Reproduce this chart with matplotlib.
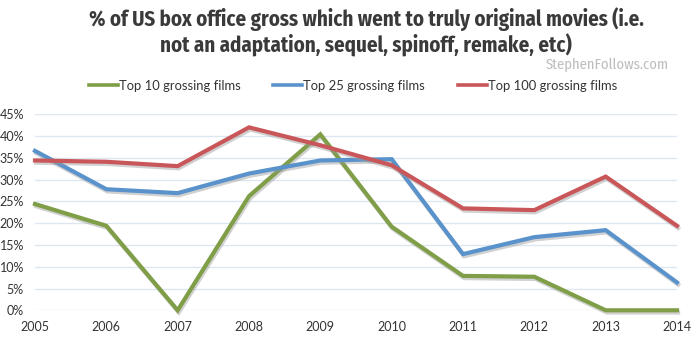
import matplotlib
matplotlib.use("Agg")
import matplotlib.pyplot as plt
import matplotlib.patheffects as pe
from matplotlib.lines import Line2D
from matplotlib import font_manager as fm

years = [2005, 2006, 2007, 2008, 2009, 2010, 2011, 2012, 2013, 2014]
top10 = [24.4, 19.4, 0.0, 26.2, 40.4, 19.2, 7.9, 7.7, 0.0, 0.0]
top25 = [36.6, 27.8, 26.9, 31.4, 34.4, 34.7, 12.9, 16.8, 18.4, 6.4]
top100 = [34.4, 34.1, 33.1, 42.0, 37.9, 33.3, 23.4, 23.0, 30.7, 19.4]
series_names = ["Top 10 grossing films", "Top 25 grossing films", "Top 100 grossing films"]
colors = ["#7f9e47", "#5a93cb", "#c9575a"]
yticks = [0, 5, 10, 15, 20, 25, 30, 35, 40, 45]

plt.rcParams["font.family"] = ["Lato", "DejaVu Sans"]


def condensed_face(weight, size):
    """Pick a condensed face, falling back to DejaVu Sans."""
    for fam in ["Fira Sans Condensed", "Barlow Condensed", "Asap Condensed", "DejaVu Sans"]:
        for f in fm.fontManager.ttflist:
            if f.name == fam and f.weight == weight and f.style == "normal" and \
                    (fam != "DejaVu Sans" or f.stretch == "condensed"):
                return fm.FontProperties(fname=f.fname, size=size)
    return fm.FontProperties(family="DejaVu Sans", weight=weight, size=size * 0.8)


title_font = condensed_face(700, 15)
mark_font = condensed_face(400, 10.5)

fig = plt.figure(figsize=(7, 3.45), dpi=100)
ax = fig.add_axes([35 / 700, 1 - 310.3 / 345, 642 / 700, 196 / 345])

for vals, col in zip([top10, top25, top100], colors):
    ax.plot(years, vals, color=col, lw=3, clip_on=False, solid_joinstyle="miter",
            path_effects=[pe.SimpleLineShadow(offset=(0.8, -1.6), shadow_color="#999999", alpha=0.45),
                          pe.Normal()], zorder=3)

ax.set_xlim(2005, 2014)
ax.set_ylim(0, 45)
ax.set_yticks(yticks)
ax.set_yticklabels([f"{v}%" for v in yticks])
ax.set_xticks(years)
ax.set_xticklabels([str(y) for y in years])
ax.grid(axis="y", color="#dde7f1", lw=1, zorder=0)
ax.tick_params(length=0, labelsize=9, colors="#333333")
ax.tick_params(axis="y", pad=8)
ax.tick_params(axis="x", pad=8)
for s in ax.spines.values():
    s.set_visible(False)

fig.text(366 / 700, 1 - 19 / 345, "% of US box office gross which went to truly original movies (i.e.",
         ha="center", va="center", color="#3a3a3a", fontproperties=title_font)
fig.text(366 / 700, 1 - 45 / 345, "not an adaptation, sequel, spinoff, remake, etc)",
         ha="center", va="center", color="#3a3a3a", fontproperties=title_font)
fig.text(669 / 700, 1 - 65 / 345, "StephenFollows.com", ha="right", va="center",
         color="#bdbdbd", fontproperties=mark_font)

handles = [Line2D([], [], color=c, lw=2.6) for c in colors]
fig.legend(handles, series_names, loc="center", bbox_to_anchor=(353 / 700, 1 - 86 / 345),
           ncol=3, frameon=False, fontsize=9.4, handlelength=2.2, handletextpad=0.1,
           columnspacing=2.5, labelcolor="#333333")

fig.savefig("out.png", dpi=100)
